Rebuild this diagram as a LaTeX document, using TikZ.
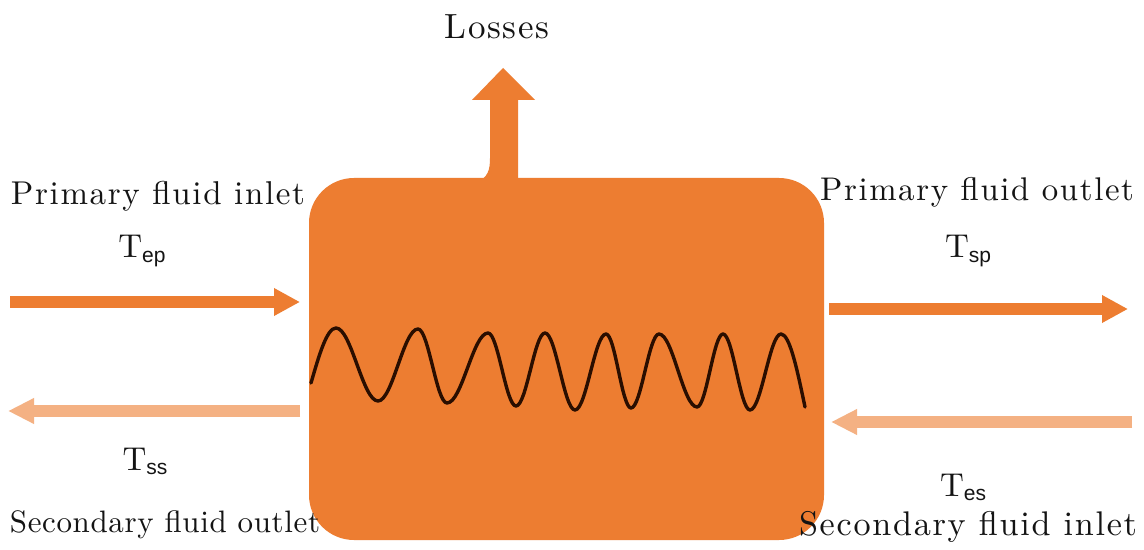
\documentclass[tikz,border=0pt]{standalone}
\usepackage{fontspec}
\setmainfont{lmroman10-regular.otf}
\newfontfamily\subfont{Liberation Sans}
\usetikzlibrary{arrows.meta}
\definecolor{boxor}{HTML}{ED7D31}
\definecolor{lightor}{HTML}{F4B183}
\definecolor{txt}{HTML}{141414}
\definecolor{wavec}{HTML}{2A0E00}
\newcommand{\Tsub}[1]{{\fontsize{16.5}{18}\selectfont T}\raisebox{-2pt}{\subfont\fontsize{10.5}{11}\selectfont #1}}
\newcommand{\lblfont}[2]{\fontsize{#1}{18}\selectfont\addfontfeature{LetterSpace=#2}}
\begin{document}
\begin{tikzpicture}[x=0.5pt,y=-0.5pt,
  lbl/.style={anchor=base,inner sep=0,text=txt},
  tlbl/.style={anchor=base,inner sep=0,text=txt},
  darkflow/.style={draw=boxor,line width=6pt,-{Triangle[length=13pt,width=13pt]}},
  lightflow/.style={draw=lightor,line width=6pt,-{Triangle[length=13pt,width=12pt]}},
  hxbox/.style={fill=boxor,draw=none,rounded corners=22.5pt,minimum width=257.5pt,minimum height=181pt,inner sep=0}]
\useasboundingbox (0,0) rectangle (1144,550);
\fill[white] (0,0) rectangle (1144,550);
% heat exchanger body
\node[hxbox] (hx) at (566.5,359) {};
% losses arrow
\fill[boxor] (476,182) .. controls (488,178) and (490,170) .. (490,158) -- (490,100) -- (472,100) -- (503,68) -- (535,100) -- (518,100) -- (518,182) -- cycle;
\node[lbl,font=\lblfont{17.5}{5}] (losses) at (497,39) {Losses};
% wave
\draw[wavec,line width=1.7pt,line cap=round,line join=round]
 (311,383) sin (336,328) cos (357,364.5) sin (378,401) cos (398,365) sin (418,329)
 cos (432.5,366) sin (447,403) cos (467.5,368) sin (488,333)
 cos (502,369.5) sin (516,406) cos (530.5,369.5) sin (545,333)
 cos (560,371.5) sin (575,410) cos (590.5,372) sin (606,334)
 cos (618.5,371) sin (631,408) cos (645,371) sin (659,334)
 cos (678,370.5) sin (697,407) cos (710,370.5) sin (723,334)
 cos (736.5,372) sin (750,410) cos (765.5,372) sin (781,334)
 cos (805,407);
% flow endpoints
\coordinate (pin0) at (10,302);
\coordinate (pin1) at (300,302);
\coordinate (sout0) at (300,411);
\coordinate (sout1) at (8,411);
\coordinate (pout0) at (829,309);
\coordinate (pout1) at (1128,309);
\coordinate (sin0) at (1132,422);
\coordinate (sin1) at (831,422);
\draw[darkflow] (pin0) -- (pin1);
\draw[lightflow] (sout0) -- (sout1);
\draw[darkflow] (pout0) -- (pout1);
\draw[lightflow] (sin0) -- (sin1);
% labels
\node[lbl,font=\lblfont{16.5}{5}] (pinl) at (158,205) {Primary fluid inlet};
\node[tlbl] (tep) at (142,258) {\Tsub{ep}};
\node[lbl,font=\lblfont{16.4}{5}] (poutl) at (977,201) {Primary fluid outlet};
\node[tlbl] (tsp) at (968,258) {\Tsub{sp}};
\node[tlbl] (tss) at (145,470) {\Tsub{ss}};
\node[lbl,font=\lblfont{15.5}{2}] (soutl) at (165,532) {Secondary fluid outlet};
\node[tlbl] (tes) at (963,496) {\Tsub{es}};
\node[lbl,font=\lblfont{17.1}{5}] (sinl) at (968,535) {Secondary fluid inlet};
\end{tikzpicture}
\end{document}
